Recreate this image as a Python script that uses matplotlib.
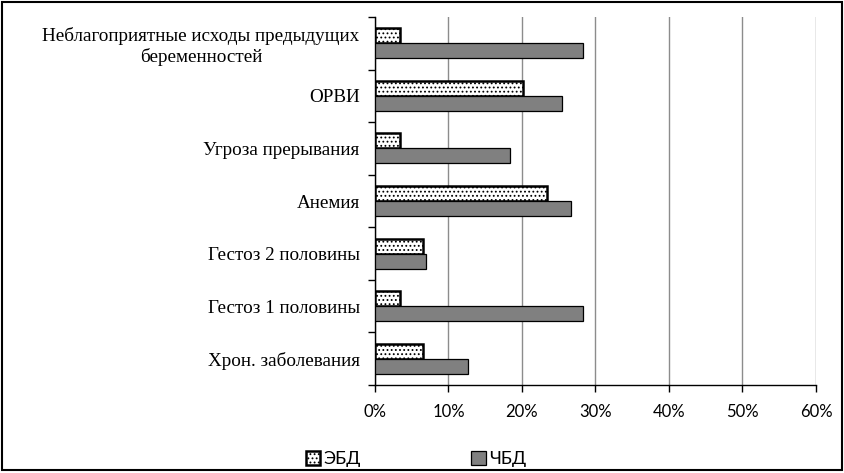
import numpy as np
import matplotlib.pyplot as plt
from matplotlib.patches import Rectangle
from matplotlib.ticker import FixedLocator

# categories, top to bottom
categories = [
    "Неблагоприятные исходы предыдущих\nбеременностей",
    "ОРВИ",
    "Угроза прерывания",
    "Анемия",
    "Гестоз 2 половины",
    "Гестоз 1 половины",
    "Хрон. заболевания",
]
ebd = [3.4, 20.1, 3.4, 23.4, 6.6, 3.4, 6.6]
chbd = [28.3, 25.4, 18.4, 26.7, 7.0, 28.3, 12.6]
xticks = [0, 10, 20, 30, 40, 50, 60]

plt.rcParams['hatch.linewidth'] = 0.8

fig = plt.figure(figsize=(8.44, 4.73), dpi=100)
ax = fig.add_axes([0.4443, 0.186, 0.5225, 0.778])

n = len(categories)
y = np.arange(n)[::-1]
h = 0.285

ax.barh(y + h / 2, ebd, height=h, color="white", edgecolor="black",
        linewidth=1.8, hatch="....", label="ЭБД", zorder=3)
ax.barh(y - h / 2, chbd, height=h, color="#808080", edgecolor="black",
        linewidth=0.9, label="ЧБД", zorder=3)

ax.set_xlim(0, 60)
ax.set_ylim(-0.5, n - 0.5)
ax.set_xticks(xticks)
ax.set_xticklabels([f"{t}%" for t in xticks], fontfamily="Lato", fontsize=12)
ax.xaxis.grid(True, color="#8c8c8c", linewidth=1.0, zorder=0)
ax.tick_params(axis="x", direction="out", length=5, width=1, pad=9)

ax.set_yticks(y)
ax.set_yticklabels(categories, fontfamily="Liberation Serif", fontsize=13.8,
                   multialignment="center", linespacing=1.2)
ax.yaxis.set_minor_locator(FixedLocator(np.arange(-0.5, n, 1.0)))
ax.tick_params(axis="y", which="major", length=0, pad=11)
ax.tick_params(axis="y", which="minor", direction="out", length=5, width=1)

for s in ["top", "right"]:
    ax.spines[s].set_visible(False)
ax.spines["left"].set_linewidth(1)
ax.spines["bottom"].set_linewidth(1)

leg = fig.legend(loc="lower left", bbox_to_anchor=(0.343, -0.022), ncol=2,
                 frameon=False, columnspacing=6.1, handlelength=0.8,
                 handleheight=0.8, handletextpad=0.2,
                 prop={"family": "Lato", "size": 13})

fig.patches.append(Rectangle((0.002, 0.006), 0.996, 0.99, transform=fig.transFigure,
                             fill=False, edgecolor="black", linewidth=1.5))

fig.savefig("out.png", dpi=100)
